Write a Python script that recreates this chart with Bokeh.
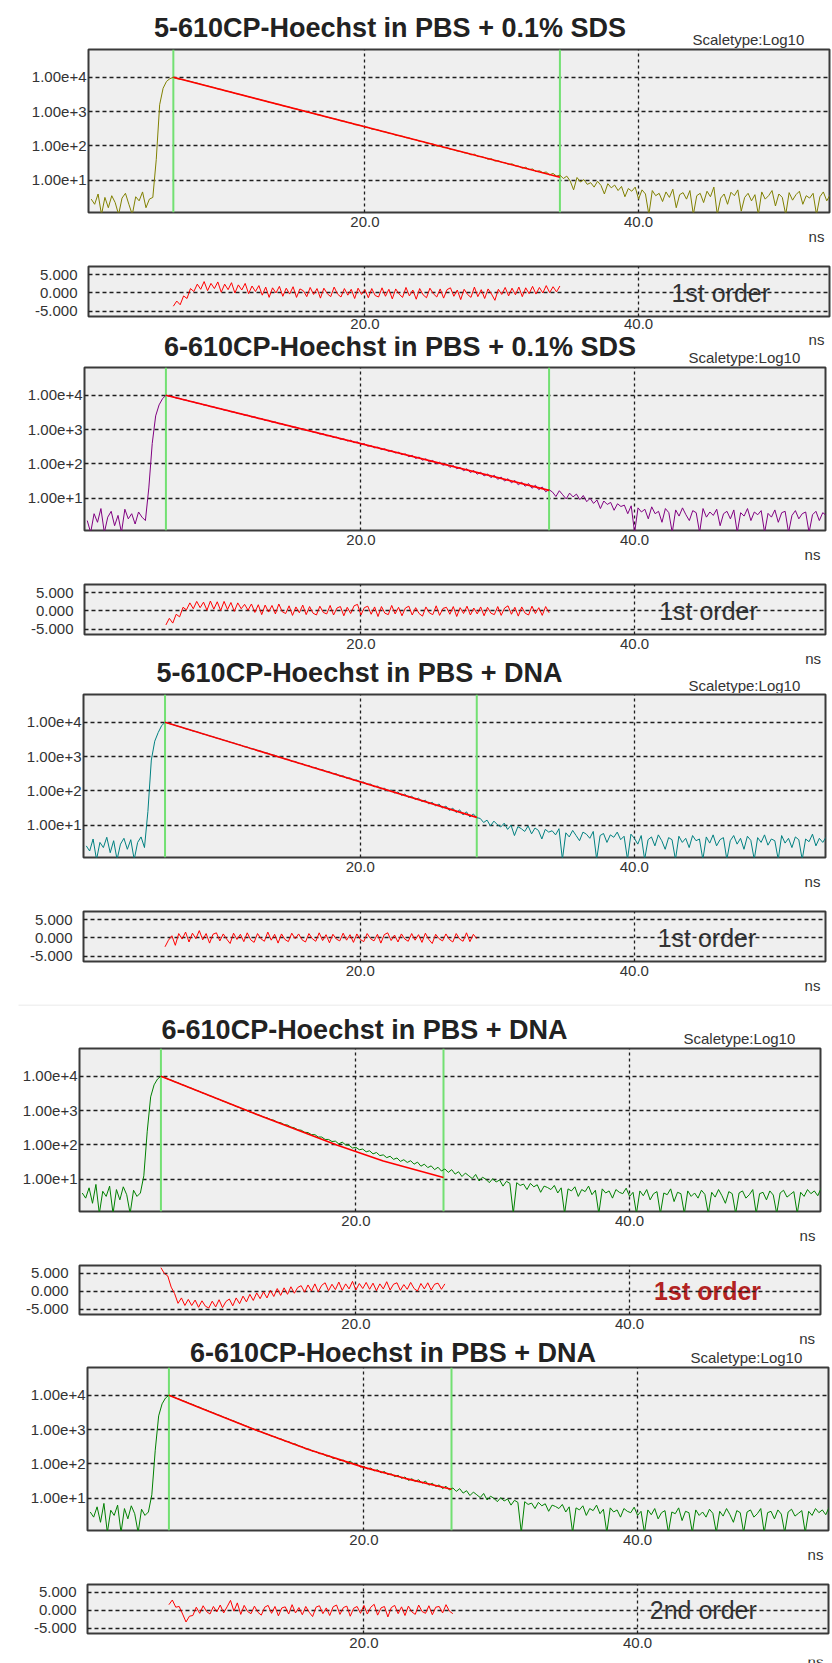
import numpy as np
from bokeh.embed import file_html
from bokeh.layouts import column, row
from bokeh.models import (CustomJSTickFormatter, FixedTicker, Label, LinearAxis,
                          Range1d, Span)
from bokeh.plotting import figure
from bokeh.resources import INLINE

CHANNEL_NS = 0.25            # time width of one histogram channel
PAGE_W = 832
FONT = "Liberation Sans"

TITLES = [
    "5-610CP-Hoechst in PBS + 0.1% SDS",
    "6-610CP-Hoechst in PBS + 0.1% SDS",
    "5-610CP-Hoechst in PBS + DNA",
    "6-610CP-Hoechst in PBS + DNA",
    "6-610CP-Hoechst in PBS + DNA",
]
ORDERS = ["1st order", "1st order", "1st order", "1st order", "2nd order"]
X_TICKS = [20, 40]
UNIT_TICK = [53.0]           # where the "ns" unit caption sits on the time axis
COUNT_TICKS = [10, 100, 1000, 10000]
RESID_TICKS = [-5, 0, 5]

# ---- decay histograms, log10(counts) per channel from t = 0 ns ----
decay_sds_5 = [
    0.45, 0.30, 0.60, 0.00, 0.50, 0.20, 0.55, 0.35, 0.00, 0.48, 0.62, 0.30, 0.00, 0.52, 0.40, 0.66, 0.20, 0.45,
    0.50, 1.60, 3.20, 3.68, 3.88, 3.96,
    4.00, 3.96, 3.94, 3.93, 3.90, 3.88, 3.85, 3.83, 3.80, 3.77,
    3.75, 3.72, 3.70, 3.66, 3.65, 3.61, 3.59, 3.57, 3.53, 3.51,
    3.49, 3.46, 3.43, 3.41, 3.38, 3.36, 3.33, 3.31, 3.27, 3.26,
    3.22, 3.21, 3.17, 3.15, 3.13, 3.09, 3.08, 3.04, 3.03, 2.99,
    2.97, 2.95, 2.91, 2.90, 2.86, 2.84, 2.81, 2.79, 2.77, 2.73,
    2.72, 2.68, 2.67, 2.62, 2.61, 2.59, 2.55, 2.54, 2.49, 2.48,
    2.46, 2.42, 2.41, 2.37, 2.36, 2.31, 2.30, 2.28, 2.24, 2.23,
    2.19, 2.18, 2.13, 2.13, 2.08, 2.07, 2.05, 1.99, 2.00, 1.95,
    1.95, 1.90, 1.89, 1.85, 1.84, 1.80, 1.79, 1.74, 1.76, 1.69,
    1.69, 1.66, 1.61, 1.63, 1.56, 1.57, 1.52, 1.51, 1.46, 1.48,
    1.42, 1.41, 1.35, 1.38, 1.31, 1.33, 1.25, 1.28, 1.22, 1.24,
    1.16, 1.20, 1.12, 1.15,
    1.05, 1.12, 0.98, 0.72, 1.08, 0.95, 1.02, 0.88,
    0.93, 0.80, 0.97, 0.85, 0.60, 0.90, 0.78, 0.86, 0.70, 0.82, 0.52, 0.76, 0.68, 0.80, 0.45, 0.72,
    0.60, 0.00, 0.70, 0.55, 0.62, 0.38, 0.66, 0.50, 0.74, 0.20,
    0.58, 0.64, 0.45, 0.70, 0.00, 0.55, 0.62, 0.35, 0.68, 0.52,
    0.80, 0.00, 0.48, 0.60, 0.30, 0.65, 0.55, 0.72, 0.10, 0.50,
    0.62, 0.40, 0.58, 0.00, 0.66, 0.45, 0.55, 0.70, 0.25, 0.60,
    0.50, 0.00, 0.64, 0.42, 0.58, 0.68, 0.30, 0.55, 0.48, 0.62,
    0.00, 0.52, 0.66, 0.40, 0.58,
]
decay_sds_6 = [
    0.35, 0.00, 0.55, 0.30, 0.70, 0.00, 0.45, 0.62, 0.20, 0.50, 0.00, 0.68, 0.40, 0.55, 0.25, 0.60, 0.45,
    0.35, 1.30, 2.60, 3.40, 3.72, 3.90,
    4.00, 3.97, 3.96, 3.92, 3.91, 3.87, 3.86, 3.82, 3.81, 3.77,
    3.76, 3.72, 3.71, 3.67, 3.66, 3.62, 3.61, 3.57, 3.56, 3.52,
    3.51, 3.47, 3.46, 3.42, 3.42, 3.37, 3.37, 3.32, 3.32, 3.27,
    3.27, 3.22, 3.22, 3.17, 3.17, 3.12, 3.12, 3.07, 3.07, 3.03,
    3.02, 2.98, 2.97, 2.93, 2.92, 2.87, 2.88, 2.82, 2.83, 2.77,
    2.78, 2.72, 2.73, 2.67, 2.69, 2.62, 2.64, 2.57, 2.59, 2.52,
    2.53, 2.47, 2.49, 2.42, 2.44, 2.37, 2.39, 2.32, 2.34, 2.27,
    2.29, 2.21, 2.25, 2.16, 2.20, 2.11, 2.15, 2.06, 2.10, 2.01,
    2.05, 1.96, 2.00, 1.90, 1.95, 1.86, 1.90, 1.80, 1.86, 1.75,
    1.81, 1.70, 1.76, 1.65, 1.71, 1.60, 1.67, 1.55, 1.62, 1.50,
    1.57, 1.45, 1.52, 1.39, 1.47, 1.35, 1.43, 1.29, 1.38, 1.25,
    1.33, 1.19, 1.25,
    1.18, 1.05, 1.22, 1.10, 0.98, 1.15, 1.04, 1.12,
    0.96, 1.08, 0.90, 1.00, 0.85, 0.95, 0.70, 0.92, 0.82, 0.88, 0.65, 0.84, 0.76, 0.80, 0.55, 0.78,
    0.00, 0.72, 0.60, 0.68, 0.40, 0.75, 0.55, 0.62, 0.30, 0.70,
    0.58, 0.00, 0.66, 0.48, 0.72, 0.52, 0.35, 0.64, 0.58, 0.00,
    0.70, 0.45, 0.60, 0.50, 0.68, 0.20, 0.55, 0.62, 0.40, 0.66,
    0.00, 0.58, 0.48, 0.70, 0.35, 0.60, 0.52, 0.64, 0.00, 0.56,
    0.45, 0.66, 0.30, 0.58, 0.62, 0.00, 0.50, 0.64, 0.40, 0.55,
    0.60, 0.00, 0.52, 0.62, 0.35, 0.58, 0.50,
]
decay_dna_5 = [
    0.40, 0.25, 0.60, 0.00, 0.50, 0.35, 0.65, 0.20, 0.55, 0.00, 0.45, 0.62, 0.30, 0.58, 0.00, 0.50, 0.66, 0.35,
    1.40, 2.90, 3.45, 3.70, 3.90,
    4.00, 3.97, 3.94, 3.91, 3.88, 3.85, 3.81, 3.79, 3.75, 3.73,
    3.70, 3.66, 3.64, 3.60, 3.58, 3.54, 3.52, 3.48, 3.46, 3.42,
    3.40, 3.36, 3.34, 3.29, 3.28, 3.23, 3.22, 3.17, 3.16, 3.11,
    3.10, 3.05, 3.04, 2.99, 2.98, 2.93, 2.92, 2.86, 2.86, 2.80,
    2.80, 2.74, 2.74, 2.68, 2.68, 2.62, 2.62, 2.56, 2.56, 2.50,
    2.50, 2.43, 2.44, 2.37, 2.38, 2.31, 2.32, 2.25, 2.26, 2.19,
    2.20, 2.12, 2.14, 2.06, 2.08, 2.00, 2.03, 1.94, 1.97, 1.87,
    1.91, 1.81, 1.85, 1.75, 1.79, 1.69, 1.73, 1.62, 1.67, 1.56,
    1.62, 1.50, 1.56, 1.43, 1.50, 1.37, 1.45, 1.30, 1.39, 1.24,
    1.33, 1.22,
    1.20, 1.08, 1.15, 0.98, 1.12, 1.02,
    0.95, 1.06, 0.88, 1.00, 0.70, 0.96, 0.90, 0.82, 0.98, 0.75, 0.92, 0.85, 0.60, 0.88, 0.80,
    0.84, 0.72, 0.90, 0.00, 0.78, 0.66, 0.85, 0.70, 0.55, 0.80, 0.74, 0.62,
    0.82, 0.00, 0.70, 0.76, 0.50, 0.72, 0.65, 0.80, 0.58, 0.68, 0.00, 0.74,
    0.62, 0.45, 0.70, 0.00, 0.58, 0.66, 0.40, 0.72, 0.55, 0.30,
    0.64, 0.58, 0.00, 0.68, 0.50, 0.62, 0.35, 0.70, 0.55, 0.60,
    0.00, 0.66, 0.48, 0.72, 0.40, 0.58, 0.64, 0.00, 0.55, 0.70,
    0.45, 0.62, 0.30, 0.68, 0.56, 0.00, 0.64, 0.50, 0.72, 0.42,
    0.60, 0.55, 0.00, 0.70, 0.48, 0.62, 0.35, 0.66, 0.58, 0.00,
    0.60, 0.52, 0.74, 0.40, 0.62, 0.50, 0.66,
]
decay_dna_6 = [
    0.60, 0.45, 0.75, 0.30, 0.85, 0.00, 0.65, 0.50, 0.80, 0.00, 0.70, 0.40, 0.78, 0.55, 0.00, 0.68, 0.50,
    0.60, 1.10, 2.40, 3.40, 3.75, 3.92,
    4.00, 3.97, 3.92, 3.89, 3.84, 3.81, 3.76, 3.73, 3.68, 3.65,
    3.60, 3.57, 3.52, 3.49, 3.44, 3.41, 3.36, 3.33, 3.28, 3.25,
    3.20, 3.17, 3.12, 3.09, 3.04, 3.01, 2.96, 2.94, 2.89, 2.86,
    2.81, 2.79, 2.74, 2.72, 2.66, 2.65, 2.59, 2.58, 2.52, 2.50,
    2.44, 2.43, 2.37, 2.36, 2.30, 2.30, 2.23, 2.23, 2.16, 2.16,
    2.10, 2.11, 2.03, 2.08, 2.00, 1.99, 1.91, 1.93, 1.86, 1.88,
    1.80, 1.83, 1.74, 1.78, 1.69, 1.71, 1.63, 1.67, 1.58, 1.62,
    1.52, 1.57, 1.49, 1.54, 1.44, 1.50, 1.38, 1.44, 1.34, 1.39,
    1.28, 1.35, 1.24, 1.30,
    1.20, 1.28, 1.15, 1.22, 1.08, 1.18, 1.10, 1.02, 1.14, 0.95, 1.06, 1.00, 0.90, 1.02,
    0.92, 0.98, 0.80, 0.94, 0.88, 0.00, 0.90, 0.82, 0.86, 0.70, 0.88, 0.78, 0.84, 0.62, 0.80, 0.76,
    0.70, 0.82, 0.60, 0.75, 0.00, 0.72, 0.66, 0.78, 0.50, 0.70, 0.64, 0.80,
    0.55, 0.68, 0.00, 0.72, 0.60, 0.66, 0.45, 0.70, 0.62, 0.58, 0.74, 0.50,
    0.62, 0.00, 0.66, 0.52, 0.70, 0.40, 0.58, 0.64, 0.00, 0.60,
    0.55, 0.72, 0.35, 0.62, 0.58, 0.00, 0.66, 0.50, 0.60, 0.45,
    0.68, 0.56, 0.00, 0.62, 0.48, 0.70, 0.52, 0.30, 0.64, 0.58,
    0.00, 0.60, 0.66, 0.45, 0.55, 0.70, 0.00, 0.58, 0.62, 0.40,
    0.66, 0.54, 0.00, 0.60, 0.68, 0.48, 0.56, 0.64, 0.00, 0.62,
    0.50, 0.70, 0.58, 0.66, 0.52, 0.74,
]

# ---- fitting windows (ns) ----
window_sds_5 = [6.0, 34.25]
window_sds_6 = [5.75, 33.75]
window_dna_5 = [5.75, 28.5]
window_dna_6 = [5.75, 26.4]

# ---- fitted model curves: time (ns) and log10(counts) ----
fit1_t, fit1_log = [6.0, 34.25], [4.0, 1.09]
fit2_t, fit2_log = [5.75, 33.75], [4.0, 1.23]
fit3_t, fit3_log = [5.75, 28.5], [4.0, 1.23]
fit4_t, fit4_log = [5.75, 12.04, 18.6, 22.0, 26.4], [4.0, 3.0, 2.0, 1.53, 1.05]
fit5_t, fit5_log = [5.75, 8.0, 12.0, 16.0, 20.0, 23.0, 26.4], [4.0, 3.64, 3.0, 2.41, 1.90, 1.58, 1.26]

# ---- weighted residuals, one per channel from the window start ----
resid_1 = [
    -3.6, -2.2, -3.2, -0.8, -1.5, 1.2, 0.4, 2.4,
    1.0, 3.1, 0.6, 2.6, 1.2, 3.0, 0.2, 2.4, 0.9, 2.8, 0.0, 2.2, 0.8, 2.6, -0.2, 1.9,
    0.4, 2.0, -0.6, 1.6, -1.2, 1.4, 0.0, 1.8, -0.9, 1.3, -0.3, 1.7, -1.2, 1.1, 0.6, -1.0,
    1.5, -0.4, 1.2, -1.4, 1.3, -0.2, -1.0, 1.6, -0.3, -1.1, 1.2, -0.6, 1.0, -1.5, 1.3, -0.4,
    0.9, -1.3, 1.2, -0.7, -1.1, 1.4, -0.9, 1.0, -1.6, 1.1, -0.3, -1.2, 1.5, -0.8, 0.8, -1.7,
    1.2, -0.5, -1.3, 1.3, -0.2, -1.1, 1.1, -1.4, 0.9, 1.4, -0.9, 0.8, -1.8, 1.0, -0.4, -1.2,
    1.6, -1.0, 0.9, -1.5, 1.1, -0.3, -2.0, 1.0,
    -0.4, 1.5, -0.8, 1.3, -0.5, 1.6, -1.0, 1.4, -0.2, 1.8, -0.3, 1.5, 0.0, 2.0, 0.1, 1.7, 0.3, 1.9,
]
resid_2 = [
    -3.8, -2.0, -3.3, -0.9, -1.6, 1.0, 0.3, 2.2,
    0.6, 2.6, 0.9, 2.4, 0.2, 2.7, 0.5, 2.5, 0.1, 2.6, 0.4, 2.3, -0.1, 2.2, 0.6, 1.8,
    0.2, 1.9, -0.4, 1.7, -1.0, 1.6, -0.3, 1.5, -0.8, 1.9, -0.2, -0.7, 1.4, -1.2, 1.1, -0.5,
    1.6, -1.0, 1.2, -0.6, -1.1, 1.3, -0.4, -0.8, 1.5, -1.1, 0.8, 1.2, -1.3, 1.0, -0.7, 1.4,
    1.8, -1.1, 0.9, 1.3, -0.9, 1.1, -1.5, 1.2, -0.6, -1.0, 1.5, -0.8, 1.0, -1.3, 0.8, 1.3,
    -1.1, 0.9, -0.7, -1.4, 1.1, -0.5, -1.0, 1.4, -1.2, 0.7, 1.0, -0.9, 1.2, -1.5, 0.9, -0.7,
    1.3, -1.1, 0.8, -0.8, 1.1, -1.3, 1.0, -0.6,
    -1.0, 1.2, -1.2, 0.8, 1.4, -0.9, 1.0, -1.4, 1.1, -0.6, -1.1, 1.3, -0.7, 0.9, -1.2, 1.2, -0.5,
]
resid_3 = [
    -2.4, -0.6, 0.6, -2.0, 1.2, -0.3, 1.6, -1.1,
    1.3, -0.2, 2.0, -0.5, 1.2, -1.4, 1.0, 1.4, -0.8, 1.1, -0.3, -1.5, 1.3, -0.4, 1.0, -1.0,
    1.4, -0.5, -1.2, 1.2, -0.2, -0.9, 1.6, -0.6, 1.0, -1.4, 1.1, -0.4, -1.0, 1.3, -0.2, 1.1,
    -0.5, -1.1, 1.2, -0.2, -0.9, 1.4, -0.7, 0.9, -1.3, 1.0, -0.3, -0.8, 1.3, -0.6, 0.9, -1.2,
    1.1, -0.4, -1.0, 1.2, -0.2, -0.8, 1.0, -1.4, 0.9, 1.4, -0.7, 0.8, -1.1, 1.1, -0.3, -0.9,
    1.2, -0.6, 0.9, -1.2, 1.3, -0.4, -1.5, 1.0, -0.2, -0.8, 1.1, -0.4, -1.1, 1.2, -0.3, -0.9,
    1.4, -1.0, 1.0, -0.2,
]
resid_4 = [
    6.6, 5.0, 4.3, 1.2, -0.6, -3.3, -1.8, -3.9,
    -2.2, -3.9, -2.4, -4.4, -2.6, -4.1, -4.6, -2.7, -4.3, -2.3, -4.5, -2.8, -2.1, -4.0, -1.8, -3.4, -1.3,
    -2.9, -0.8, -2.5, -0.4, -2.0, -0.1, -1.8, 0.3, -1.4, 0.8, -1.1, 1.0, -0.8, 1.3, -0.5, 1.1,
    1.6, -0.2, 1.8, 0.1, 2.1, -0.1, 1.7, 2.4, 0.2, 2.0, 0.5, 2.6, 0.3, 2.1, 0.7, 2.8, 0.4, 2.2, 0.8, 2.5,
    0.6, 2.3, 0.2, 2.1, 0.7, 2.7, 0.4, 2.0, 2.4, 0.3, 1.9, 0.6, 2.5, 0.8, 0.1, 2.2, 0.7, 2.4, 0.4, 2.0,
    2.3, 0.6, 2.1,
]
resid_5 = [
    1.6, 2.9, 0.9, 1.1, -1.0, -3.2, -1.6, -1.4,
    0.9, -0.8, 1.3, -0.3, -1.0, 1.1, -0.4, 1.5, -0.7, 1.0, 2.8, -0.2, 2.1, -1.1, 1.4, -0.3, -0.9, 1.2,
    -0.5, -1.3, 0.9, 1.4, -0.8, 1.1, -1.5, 0.7, 1.0, -1.0, 1.6, -0.7, 0.8, -1.2, 1.1, -0.5,
    -1.7, 0.9, 1.3, -0.9, 0.7, -1.4, 1.0, 1.5, -1.1, 0.8, 1.2, -1.6, 0.6, 1.1, -0.8, 1.4,
    -1.0, 0.9, 1.7, -1.3, 0.7, 1.1, -1.8, 0.8, 1.4, -0.9, 1.0, -1.4, 1.2, -0.4, -1.1, 1.5,
    -0.3, -0.8, 1.3, -1.2, 0.9, 1.1, -0.7, 1.6, -0.2, -0.9,
]

PANELS = [
    dict(decay=decay_sds_5, color="#808000", window=window_sds_5, fit_t=fit1_t, fit_log=fit1_log, resid=resid_1),
    dict(decay=decay_sds_6, color="#800080", window=window_sds_6, fit_t=fit2_t, fit_log=fit2_log, resid=resid_2),
    dict(decay=decay_dna_5, color="#008080", window=window_dna_5, fit_t=fit3_t, fit_log=fit3_log, resid=resid_3),
    dict(decay=decay_dna_6, color="#008000", window=window_dna_6, fit_t=fit4_t, fit_log=fit4_log, resid=resid_4),
    dict(decay=decay_dna_6, color="#008000", window=window_dna_6, fit_t=fit5_t, fit_log=fit5_log, resid=resid_5),
]

# ---- page geometry in pixels ----
# caption strips (top, bottom) that carry the headings
STRIPS = [(0, 48), (336, 366), (655, 693), (1008, 1047), (1335, 1366)]
FOOT_STRIP = (1655, 1663)
# decay plots: canvas top/height, frame left/right/top/bottom
DECAY_GEO = [
    dict(top=48, h=201, left=88, right=829, ftop=49, fbot=212),
    dict(top=366, h=200, left=84, right=825, ftop=367, fbot=530),
    dict(top=693, h=202, left=83, right=825, ftop=694, fbot=857),
    dict(top=1047, h=200, left=79, right=820, ftop=1048, fbot=1211),
    dict(top=1366, h=200, left=87, right=828, ftop=1367, fbot=1530),
]
RESID_GEO = [
    dict(top=252, h=84, left=88, right=829, ftop=266, fbot=316),
    dict(top=569, h=86, left=84, right=825, ftop=584, fbot=634),
    dict(top=898, h=98, left=83, right=825, ftop=911, fbot=961),
    dict(top=1250, h=85, left=79, right=820, ftop=1265, fbot=1314),
    dict(top=1569, h=86, left=87, right=828, ftop=1584, fbot=1633),
]
DECAY_TICK_STANDOFF = 4
RESID_TICK_STANDOFF = [2, 4, 4, 4, 4]
DECAY_NS_STANDOFF = -2
# text anchors given as (x, baseline) in page pixels
TITLE_POS = [(389.5, 37), (399.5, 356), (359, 682), (364, 1039), (392.5, 1362)]
SCALE_POS = [(692, 44), (688, 362.5), (688, 690), (683, 1043), (690, 1362.5)]
# residual unit captions that fall inside the following caption strip
CARRIED_NS = {1: (816, 344), 2: (812.7, 663), 4: (806.7, 1343)}
FOOT_NS = (815, 1662)
# residual unit captions drawn by the residual plot's own second axis (standoff)
RESID_NS_STANDOFF = {2: -2}
ORDER_X = [46.0, 45.4, 45.3, 45.7, 44.8]

X_RANGE = (-0.2, 53.95)
COUNT_RANGE = (1.15, 64500)
RESID_RANGE = (-6.4, 7.2)

TEXT_COLOR = "#333333"


def plain_axis(ax):
    ax.axis_line_color = None
    ax.major_tick_line_color = None
    ax.minor_tick_line_color = None
    ax.major_tick_out = 0
    ax.major_tick_in = 0
    ax.minor_tick_out = 0
    ax.minor_tick_in = 0
    ax.major_label_text_font = FONT
    ax.major_label_text_font_size = "15px"
    ax.major_label_text_color = TEXT_COLOR


def base_figure(geo, tick_standoff, **kw):
    p = figure(width=PAGE_W, height=geo["h"], toolbar_location=None, output_backend="svg",
               min_border_left=geo["left"], min_border_right=PAGE_W - geo["right"],
               min_border_top=geo["ftop"] - geo["top"],
               min_border_bottom=geo["top"] + geo["h"] - geo["fbot"], **kw)
    p.background_fill_color = "#efefef"
    p.border_fill_color = "white"
    p.outline_line_color = "#3a3a3a"
    p.outline_line_width = 2
    p.xaxis.ticker = FixedTicker(ticks=X_TICKS)
    p.xaxis.formatter = CustomJSTickFormatter(code="return tick.toFixed(1);")
    for ax in (p.xaxis[0], p.yaxis[0]):
        plain_axis(ax)
    p.xaxis.major_label_standoff = tick_standoff
    p.xgrid.grid_line_color = "#1e1e1e"
    p.xgrid.grid_line_dash = "3 3"
    p.xgrid.grid_line_width = 1.3
    p.ygrid.grid_line_color = "#1e1e1e"
    p.ygrid.grid_line_dash = "4 3"
    p.ygrid.grid_line_width = 1.3
    return p


def add_unit_axis(p, standoff):
    # second row under the time axis carrying the unit caption
    unit = LinearAxis(ticker=FixedTicker(ticks=UNIT_TICK),
                      formatter=CustomJSTickFormatter(code="return 'ns';"))
    plain_axis(unit)
    unit.major_label_standoff = standoff
    p.add_layout(unit, "below")


def strip(top, bottom):
    s = figure(width=PAGE_W, height=bottom - top, toolbar_location=None, output_backend="svg",
               x_axis_type=None, y_axis_type=None, min_border=0,
               x_range=Range1d(0, 1), y_range=Range1d(0, 1))
    s.background_fill_color = "white"
    s.border_fill_color = "white"
    s.outline_line_color = None
    return s


def strip_text(s, bottom, x, baseline, text, size, bold=False, color=TEXT_COLOR, align="left"):
    # anchor on the middle of the capitals, measured from the strip's bottom edge
    mid = baseline - 0.358 * size
    s.add_layout(Label(x=x, y=bottom - mid, x_units="screen", y_units="screen",
                       text=text, text_font=FONT, text_font_size=f"{size}px",
                       text_font_style="bold" if bold else "normal", text_color=color,
                       text_align=align, text_baseline="middle"))


def separator(h, color, left=19):
    s = figure(width=PAGE_W, height=h, toolbar_location=None, output_backend="svg",
               x_axis_type=None, y_axis_type=None, min_border_left=left, min_border_right=0,
               min_border_top=0, min_border_bottom=0,
               x_range=Range1d(0, 1), y_range=Range1d(0, 1))
    s.background_fill_color = color
    s.border_fill_color = "white"
    s.outline_line_color = None
    return s


items = []
for i, panel in enumerate(PANELS):
    dg, rg = DECAY_GEO[i], RESID_GEO[i]

    # caption strip: heading, scale note and the previous residual's unit
    top, bottom = STRIPS[i]
    s = strip(top, bottom)
    strip_text(s, bottom, TITLE_POS[i][0], TITLE_POS[i][1], TITLES[i], 27, bold=True,
               color="#222222", align="center")
    strip_text(s, bottom, SCALE_POS[i][0], SCALE_POS[i][1], "Scaletype:Log10", 15)
    if i in CARRIED_NS:
        strip_text(s, bottom, CARRIED_NS[i][0], CARRIED_NS[i][1], "ns", 15, align="center")

    # decay histogram with fitted curve
    d = base_figure(dg, DECAY_TICK_STANDOFF, y_axis_type="log",
                    x_range=Range1d(*X_RANGE), y_range=Range1d(*COUNT_RANGE))
    d.yaxis.ticker = FixedTicker(ticks=COUNT_TICKS)
    d.yaxis.formatter = CustomJSTickFormatter(code="return tick.toExponential(2);")
    d.yaxis.major_label_standoff = 2
    add_unit_axis(d, DECAY_NS_STANDOFF)
    for edge in panel["window"]:
        d.add_layout(Span(location=edge, dimension="height", line_color="#72e072",
                          line_width=2, level="underlay"))
    counts = 10.0 ** np.asarray(panel["decay"])
    t = np.arange(len(counts)) * CHANNEL_NS
    d.line(t, counts, line_color=panel["color"], line_width=1)
    d.line(panel["fit_t"], 10.0 ** np.asarray(panel["fit_log"]), line_color="#ff0000", line_width=1.6)

    # residuals of the fit
    r = base_figure(rg, RESID_TICK_STANDOFF[i], x_range=Range1d(*X_RANGE), y_range=Range1d(*RESID_RANGE))
    r.yaxis.ticker = FixedTicker(ticks=RESID_TICKS)
    r.yaxis.formatter = CustomJSTickFormatter(code="return tick.toFixed(3);")
    r.yaxis.major_label_standoff = 11
    if i in RESID_NS_STANDOFF:
        add_unit_axis(r, RESID_NS_STANDOFF[i])
    res = np.asarray(panel["resid"])
    tr = panel["window"][0] + np.arange(len(res)) * CHANNEL_NS
    r.line(tr, res, line_color="#ff0000", line_width=1)
    highlight = i == 3
    r.add_layout(Label(x=ORDER_X[i], y=0, text=ORDERS[i], text_font=FONT, text_font_size="25px",
                       text_font_style="bold" if highlight else "normal",
                       text_color="#b22222" if highlight else TEXT_COLOR,
                       text_align="center", text_baseline="middle", level="image"))

    if i == 3:
        items += [separator(3, "#d8d8d8", 18), separator(7, "#f1f1f1", 18), separator(2, "#cccccc", 18)]
    items += [s, d, separator(3, "#d0d0d0"), r]

# unit caption of the last residual plot, at the foot of the page
foot = strip(*FOOT_STRIP)
strip_text(foot, FOOT_STRIP[1], FOOT_NS[0], FOOT_NS[1], "ns", 15, align="center")
items.append(foot)

# each plot sits in its own row so its frame keeps its own borders
page = column(*[row(item) for item in items], spacing=0)
open("out.html", "w").write(file_html(page, INLINE))
